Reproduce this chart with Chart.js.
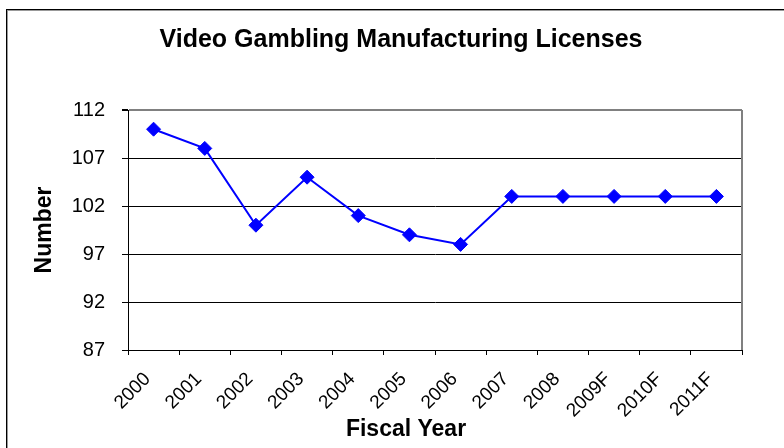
<!DOCTYPE html>
<html>
<head>
<meta charset="utf-8">
<script src="https://cdn.jsdelivr.net/npm/chart.js@4.4.0/dist/chart.umd.min.js"></script>
<style>
    html, body { margin: 0; padding: 0; background: #fff; }
    #frame {
        position: absolute; left: 6px; top: 9px; width: 800px; height: 460px;
        border-left: 1px solid #000; border-top: 1px solid #000;
        box-shadow: inset 1px 1px 0 #999;
    }
    #wrap { position: absolute; left: 0; top: 0; width: 784px; height: 448px; }
</style>
</head>
<body>
<div id="frame"></div>
<div id="wrap"><canvas id="licensesChart" width="784" height="448"></canvas></div>
<script>
const chartTitle = 'Video Gambling Manufacturing Licenses';
const xAxisTitle = 'Fiscal Year';
const yAxisTitle = 'Number';

const fiscalYears = ['2000', '2001', '2002', '2003', '2004', '2005', '2006', '2007', '2008', '2009F', '2010F', '2011F'];
const licenseCounts = [110, 108, 100, 105, 101, 99, 98, 103, 103, 103, 103, 103];
const yTicks = [87, 92, 97, 102, 107, 112];

const FONT = 'Arial, "Liberation Sans", sans-serif';

// title + x axis title are drawn by hand so they can sit off the plot centre like the excel original
const textLabels = {
    id: 'textLabels',
    beforeDatasetsDraw(chart) {
        const { ctx, chartArea } = chart;
        // grey frame on the right side of the plot area
        ctx.save();
        ctx.strokeStyle = '#808080';
        ctx.lineWidth = 2;
        ctx.beginPath();
        ctx.moveTo(chartArea.right, chartArea.top);
        ctx.lineTo(chartArea.right, chartArea.bottom);
        ctx.stroke();
        ctx.restore();
    },
    afterDraw(chart) {
        const { ctx } = chart;
        ctx.save();
        ctx.fillStyle = '#000';
        ctx.textAlign = 'center';
        ctx.textBaseline = 'alphabetic';
        ctx.font = 'bold 25px ' + FONT;
        ctx.fillText(chartTitle, 401, 47);
        ctx.font = 'bold 23px ' + FONT;
        ctx.fillText(xAxisTitle, 406, 436);
        ctx.restore();
    }
};

const ctx = document.getElementById('licensesChart').getContext('2d');
new Chart(ctx, {
    type: 'line',
    data: {
        labels: fiscalYears,
        datasets: [{
            label: 'Licenses',
            data: licenseCounts,
            borderColor: '#0000FF',
            backgroundColor: '#0000FF',
            borderWidth: 2,
            tension: 0,
            fill: false,
            pointStyle: 'rectRot',
            pointRadius: 7,
            pointBorderWidth: 1,
            pointBackgroundColor: '#0000FF',
            pointBorderColor: '#0000FF'
        }]
    },
    options: {
        responsive: false,
        animation: false,
        devicePixelRatio: 1,
        layout: { padding: { top: 110, right: 42, bottom: 0, left: 0 } },
        plugins: {
            legend: { display: false },
            tooltip: { enabled: false },
            title: { display: false }
        },
        scales: {
            x: {
                offset: true,
                afterFit: (scale) => { scale.height = 98; },
                grid: {
                    offset: true,
                    drawOnChartArea: false,
                    drawTicks: true,
                    tickLength: 5,
                    tickColor: '#000'
                },
                border: { color: '#000', width: 1 },
                ticks: {
                    autoSkip: false,
                    minRotation: 45,
                    maxRotation: 45,
                    padding: 13,
                    labelOffset: -6,
                    color: '#000',
                    font: { family: FONT, size: 19 }
                }
            },
            y: {
                min: 87,
                max: 112,
                afterFit: (scale) => { scale.width = 128; },
                afterBuildTicks: (scale) => { scale.ticks = yTicks.map(v => ({ value: v })); },
                grid: {
                    color: (c) => (c.tick && c.tick.value === 112 ? '#808080' : '#000'),
                    lineWidth: (c) => (c.tick && c.tick.value === 112 ? 2 : 1),
                    tickLength: 6,
                    tickColor: '#000'
                },
                border: { color: '#000', width: 1 },
                ticks: {
                    padding: 17,
                    color: '#000',
                    font: { family: FONT, size: 20 }
                },
                title: {
                    display: true,
                    text: yAxisTitle,
                    color: '#000',
                    font: { family: FONT, size: 23, weight: 'bold' },
                    padding: { top: 31, bottom: 0 }
                }
            }
        }
    },
    plugins: [textLabels]
});
</script>
</body>
</html>
